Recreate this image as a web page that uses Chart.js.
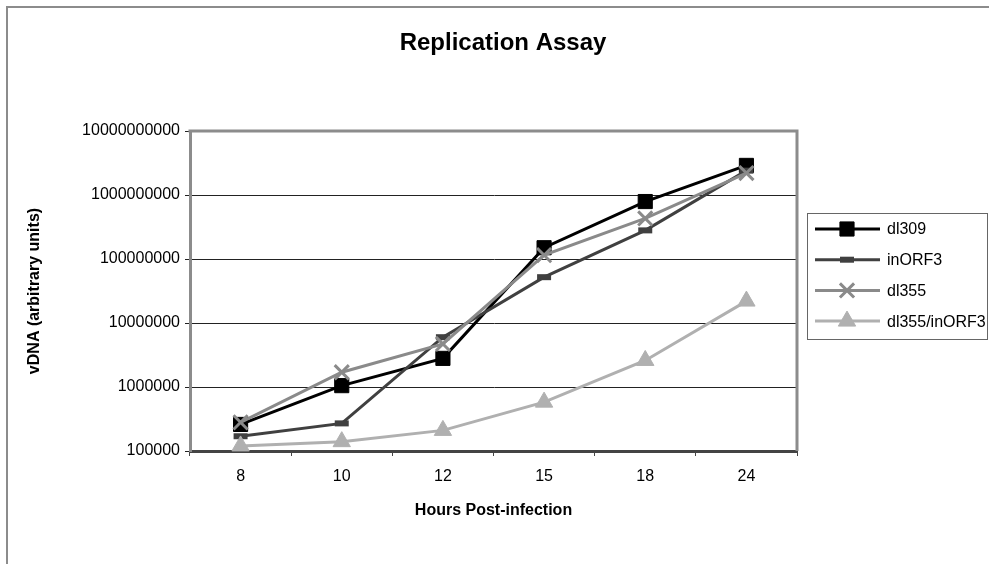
<!DOCTYPE html>
<html>
<head>
<meta charset="utf-8">
<title>Replication Assay</title>
<script src="https://cdn.jsdelivr.net/npm/chart.js"></script>
<style>
  html, body { margin: 0; padding: 0; background: #fff; }
  #wrap { width: 989px; height: 564px; }
</style>
</head>
<body>
<div id="wrap"><canvas id="replicationChart" width="989" height="564"></canvas></div>
<script>
// Values (log scale)
const hours = ['8', '10', '12', '15', '18', '24'];
const dl309 = [2.6e5, 1.05e6, 2.8e6, 1.5e8, 7.9e8, 2.9e9];
const inORF3 = [1.7e5, 2.7e5, 6.0e6, 5.2e7, 2.8e8, 2.4e9];
const dl355 = [2.8e5, 1.7e6, 4.7e6, 1.15e8, 4.3e8, 2.2e9];
const dl355inORF3 = [1.2e5, 1.4e5, 2.1e5, 5.8e5, 2.6e6, 2.2e7];
const yTickValues = [1e5, 1e6, 1e7, 1e8, 1e9, 1e10];

const seriesNames = ['dl309', 'inORF3', 'dl355', 'dl355/inORF3'];
const seriesValues = [dl309, inORF3, dl355, dl355inORF3];

// Look of each series (kept apart from the data)
const seriesStyles = [
    { color: '#000000', pointStyle: 'rect', radius: 10, pointBorderWidth: 1 },
    { color: '#404040', pointStyle: 'line', radius: 7, pointBorderWidth: 6 },
    { color: '#8a8a8a', pointStyle: 'crossRot', radius: 10, pointBorderWidth: 3 },
    { color: '#b0b0b0', pointStyle: 'triangle', radius: 10, pointBorderWidth: 1 }
];

Chart.defaults.font.family = '"Liberation Sans", Arial, sans-serif';
Chart.defaults.color = '#000';

const datasets = seriesNames.map((name, i) => {
    const s = seriesStyles[i];
    return {
        label: name,
        data: seriesValues[i],
        borderColor: s.color,
        backgroundColor: s.color,
        borderWidth: 3,
        tension: 0,
        pointStyle: s.pointStyle,
        pointRadius: s.radius,
        pointHoverRadius: s.radius,
        pointBorderWidth: s.pointBorderWidth,
        pointBorderColor: s.color,
        pointBackgroundColor: s.color,
        clip: false,
        order: seriesNames.length - i // later series drawn on top, like Excel
    };
});

// Simple fallback if Chart.helpers.drawPoint is not exposed
function drawMarker(ctx, style, radius, x, y) {
    if (Chart.helpers && Chart.helpers.drawPoint) {
        Chart.helpers.drawPoint(ctx, { pointStyle: style, radius: radius, rotation: 0, borderWidth: ctx.lineWidth }, x, y);
        return;
    }
    ctx.beginPath();
    if (style === 'rect') {
        const h = radius * Math.SQRT1_2;
        ctx.rect(x - h, y - h, 2 * h, 2 * h);
        ctx.fill();
    } else if (style === 'line') {
        ctx.moveTo(x - radius, y);
        ctx.lineTo(x + radius, y);
    } else if (style === 'crossRot') {
        const o = radius * Math.SQRT1_2;
        ctx.moveTo(x - o, y - o); ctx.lineTo(x + o, y + o);
        ctx.moveTo(x - o, y + o); ctx.lineTo(x + o, y - o);
    } else if (style === 'triangle') {
        ctx.moveTo(x, y - radius);
        ctx.lineTo(x + radius * 0.866, y + radius / 2);
        ctx.lineTo(x - radius * 0.866, y + radius / 2);
        ctx.closePath();
        ctx.fill();
    }
    ctx.stroke();
}

// Frame, plot border, title and boxed legend
const decorPlugin = {
    id: 'decor',
    beforeDraw(chart) {
        const ctx = chart.ctx;
        ctx.save();
        ctx.fillStyle = '#fff';
        ctx.fillRect(0, 0, chart.width, chart.height);
        ctx.strokeStyle = '#8c8c8c';
        ctx.lineWidth = 2;
        ctx.beginPath();
        ctx.moveTo(7, chart.height);
        ctx.lineTo(7, 7);
        ctx.lineTo(chart.width, 7);
        ctx.stroke();
        ctx.restore();
    },
    beforeDatasetsDraw(chart) {
        const { ctx, chartArea } = chart;
        ctx.save();
        ctx.strokeStyle = '#8c8c8c';
        ctx.lineWidth = 3;
        ctx.beginPath();
        ctx.moveTo(chartArea.left - 1.5, chartArea.top);
        ctx.lineTo(chartArea.right, chartArea.top);
        ctx.lineTo(chartArea.right, chartArea.bottom);
        ctx.stroke();
        ctx.restore();
    },
    afterDraw(chart) {
        const ctx = chart.ctx;
        ctx.save();
        // title
        ctx.fillStyle = '#000';
        ctx.font = 'bold 24px "Liberation Sans", Arial, sans-serif';
        ctx.textAlign = 'center';
        ctx.textBaseline = 'middle';
        ctx.fillText('Replication Assay', 503, 43);

        // legend box
        ctx.strokeStyle = '#666';
        ctx.lineWidth = 1;
        ctx.strokeRect(807.5, 213.5, 180, 126);

        ctx.font = '16px "Liberation Sans", Arial, sans-serif';
        ctx.textAlign = 'left';
        chart.data.datasets.forEach((ds, i) => {
            const y = 229 + i * 30.7;
            ctx.strokeStyle = ds.borderColor;
            ctx.lineWidth = ds.borderWidth;
            ctx.beginPath();
            ctx.moveTo(815, y);
            ctx.lineTo(880, y);
            ctx.stroke();

            ctx.fillStyle = ds.pointBackgroundColor;
            ctx.strokeStyle = ds.pointBorderColor;
            ctx.lineWidth = ds.pointBorderWidth;
            drawMarker(ctx, ds.pointStyle, ds.pointRadius, 847, y);

            ctx.fillStyle = '#000';
            ctx.fillText(ds.label, 887, y + 1);
        });
        ctx.restore();
    }
};

new Chart(document.getElementById('replicationChart'), {
    type: 'line',
    data: {
        labels: hours,
        datasets: datasets
    },
    options: {
        responsive: false,
        animation: false,
        layout: {
            padding: { left: 25, top: 131, right: 192, bottom: 44 }
        },
        plugins: {
            legend: { display: false },
            title: { display: false },
            tooltip: { enabled: false }
        },
        scales: {
            x: {
                offset: true,
                afterFit: scale => { scale.height = 69; },
                ticks: { font: { size: 16 }, color: '#000', padding: 11, maxRotation: 0 },
                grid: { offset: true, drawOnChartArea: false, tickLength: 5, color: '#444' },
                border: { color: '#444', width: 3 },
                title: {
                    display: true,
                    text: 'Hours Post-infection',
                    font: { size: 16, weight: 'bold' },
                    color: '#000',
                    padding: 0
                }
            },
            y: {
                type: 'logarithmic',
                min: 1e5,
                max: 1e10,
                afterBuildTicks: scale => { scale.ticks = yTickValues.map(v => ({ value: v })); },
                afterFit: scale => { scale.width = 165; },
                ticks: {
                    font: { size: 16 },
                    color: '#000',
                    padding: 5,
                    callback: value => Number(value).toFixed(0)
                },
                grid: { color: '#222', lineWidth: 1, tickLength: 5 },
                border: { color: '#8c8c8c', width: 3 },
                title: {
                    display: true,
                    text: 'vDNA (arbitrary units)',
                    font: { size: 16, weight: 'bold' },
                    color: '#000',
                    padding: 0
                }
            }
        }
    },
    plugins: [decorPlugin]
});
</script>
</body>
</html>
